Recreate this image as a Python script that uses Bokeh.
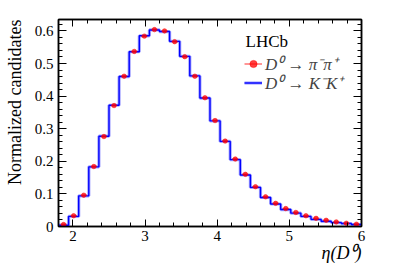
from bokeh.plotting import figure
from bokeh.models import (Range1d, LinearAxis, SingleIntervalTicker, CustomJSTickFormatter,
                          Label, Legend, LegendItem, Title)
from bokeh.embed import file_html
from bokeh.resources import INLINE

# ---- data ----
bin_edges = [1.80, 1.94, 2.08, 2.22, 2.36, 2.50, 2.64, 2.78, 2.92, 3.06, 3.20,
             3.34, 3.48, 3.62, 3.76, 3.90, 4.04, 4.18, 4.32, 4.46, 4.60,
             4.74, 4.88, 5.02, 5.16, 5.30, 5.44, 5.58, 5.72, 5.86, 6.00]
kk_values = [0.004, 0.031, 0.094, 0.183, 0.277, 0.372, 0.460, 0.536, 0.585, 0.603,
             0.598, 0.568, 0.522, 0.462, 0.394, 0.324, 0.261, 0.205, 0.158, 0.120,
             0.089, 0.069, 0.052, 0.041, 0.031, 0.022, 0.016, 0.012, 0.009, 0.006]
pipi_values = [0.006, 0.033, 0.096, 0.184, 0.276, 0.371, 0.461, 0.537, 0.584, 0.604,
               0.600, 0.567, 0.521, 0.461, 0.395, 0.325, 0.262, 0.207, 0.160, 0.122,
               0.091, 0.071, 0.055, 0.043, 0.033, 0.025, 0.019, 0.014, 0.010, 0.007]
x_range = (1.8, 6.0)
y_range = (0.0, 0.635)
x_label = "η(D⁰)"
y_label = "Normalized candidates"
label_pipi = "D⁰ → π⁻π⁺"
label_kk = "D⁰ → K⁻K⁺"
experiment = "LHCb"

FONT = "Liberation Serif"

p = figure(width=395, height=266, x_range=Range1d(*x_range), y_range=Range1d(*y_range),
           output_backend="svg", toolbar_location=None,
           x_axis_location=None, y_axis_location=None,
           min_border_left=56, min_border_right=34, min_border_top=19, min_border_bottom=40)
p.grid.visible = False
p.outline_line_color = "black"
p.outline_line_width = 1.5
p.background_fill_color = "white"
p.border_fill_color = "white"


def make_axis(ticker, show_labels, major_len, minor_len, fmt=None):
    ax = LinearAxis(ticker=ticker)
    if fmt is not None:
        ax.formatter = fmt
    ax.axis_line_color = "black"
    ax.axis_line_width = 1.5
    ax.major_tick_in = major_len
    ax.major_tick_out = 0
    ax.minor_tick_in = minor_len
    ax.minor_tick_out = 0
    ax.major_tick_line_color = "black"
    ax.minor_tick_line_color = "black"
    ax.major_tick_line_width = 1
    ax.minor_tick_line_width = 1
    ax.major_label_text_font = FONT
    if show_labels:
        ax.major_label_text_color = "black"
        ax.major_label_text_font_size = "15px"
        ax.major_label_standoff = 4
    else:
        ax.major_label_text_color = None
        ax.major_label_text_font_size = "1px"
        ax.major_label_standoff = 0
    return ax


yfmt = CustomJSTickFormatter(code="return Math.abs(tick) < 1e-9 ? '0' : tick.toFixed(1);")

p.add_layout(make_axis(SingleIntervalTicker(interval=1, num_minor_ticks=5), True, 7, 4), "below")
p.add_layout(make_axis(SingleIntervalTicker(interval=1, num_minor_ticks=5), False, 7, 4), "above")
yaxis = make_axis(SingleIntervalTicker(interval=0.1, num_minor_ticks=5), True, 8, 4, yfmt)
yaxis.major_label_standoff = 5
p.add_layout(yaxis, "left")
p.add_layout(make_axis(SingleIntervalTicker(interval=0.1, num_minor_ticks=5), False, 8, 4), "right")

# axis titles (right / top aligned, as in the reference)
p.add_layout(Title(text=x_label, align="right", text_font=FONT, text_font_size="18px",
                   text_font_style="italic", text_color="black", standoff=-6, offset=0), "below")
p.add_layout(Title(text=y_label, align="right", text_font=FONT, text_font_size="18px",
                   text_font_style="normal", text_color="black", standoff=9, offset=0,
                   vertical_align="top"), "left")

# ---- histogram (blue step line) ----
step_y = kk_values + [kk_values[-1]]
blue_halo = p.step(bin_edges, step_y, mode="after", line_color="#0000ff", line_width=3.2, line_alpha=0.35)
blue_core = p.step(bin_edges, step_y, mode="after", line_color="#0000ff", line_width=1.4)

# ---- red points with short horizontal bars ----
centers = [(a + b) / 2 for a, b in zip(bin_edges[:-1], bin_edges[1:])]
half = [(b - a) * 0.3 for a, b in zip(bin_edges[:-1], bin_edges[1:])]
red_seg = p.segment(x0=[c - h for c, h in zip(centers, half)], y0=pipi_values,
                    x1=[c + h for c, h in zip(centers, half)], y1=pipi_values,
                    line_color="#ff0000", line_width=1.5, line_alpha=0.55)
red_pts = p.scatter(centers, pipi_values, marker="circle", size=4.5,
                    fill_color="#ff0000", line_color="#ff0000", fill_alpha=0.75, line_alpha=0.5)

legend_style = dict(background_fill_alpha=0, border_line_alpha=0, padding=0, margin=0,
                    spacing=0, glyph_width=18, glyph_height=19, label_height=19,
                    label_standoff=3, label_text_font=FONT, label_text_font_size="17px",
                    label_text_font_style="italic", label_text_baseline="middle")
p.add_layout(Legend(items=[LegendItem(label=label_pipi, renderers=[red_seg, red_pts])],
                    location=(186, 151), **legend_style))
p.add_layout(Legend(items=[LegendItem(label=label_kk, renderers=[blue_halo, blue_core])],
                    location=(186, 132), **legend_style))

p.add_layout(Label(x=187, y=185, x_units="screen", y_units="screen", text=experiment,
                   text_font=FONT, text_font_size="17px", text_color="black",
                   text_baseline="alphabetic", text_align="left"))

open("out.html", "w").write(file_html(p, INLINE))
